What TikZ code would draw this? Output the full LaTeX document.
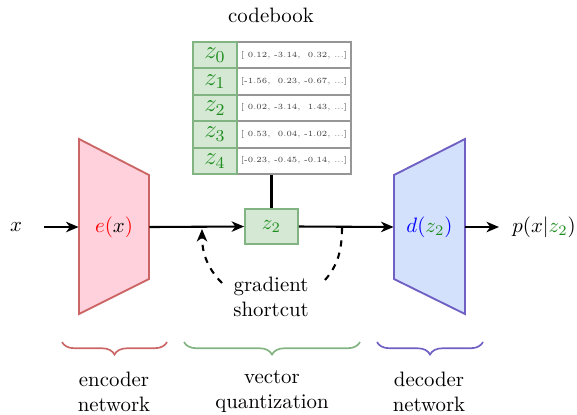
\documentclass[tikz,border=0pt]{standalone}
\usetikzlibrary{arrows.meta,decorations.pathreplacing,calc}
\definecolor{zgreen}{RGB}{30,140,30}
\definecolor{encfill}{RGB}{255,209,220}
\definecolor{encdraw}{RGB}{204,102,102}
\definecolor{decfill}{RGB}{212,225,252}
\definecolor{decdraw}{RGB}{112,96,196}
\definecolor{vqfill}{RGB}{213,232,212}
\definecolor{vqdraw}{RGB}{130,179,130}
\definecolor{cbgray}{RGB}{150,150,150}
\definecolor{cbtext}{RGB}{60,60,60}
\tikzset{
  conn/.style={line width=1pt,-{Stealth[length=6pt,width=5pt,inset=1.8pt]}},
  zcell/.style={draw=vqdraw,fill=vqfill,line width=0.9pt,minimum width=21.12pt,minimum height=12.67pt,inner sep=0pt,font=\large},
  vcell/.style={draw=cbgray,fill=white,line width=0.9pt,minimum width=54.72pt,minimum height=12.67pt,inner sep=0pt,font=\fontsize{3.8pt}{4.5pt}\selectfont,text=cbtext},
  zbox/.style={draw=vqdraw,fill=vqfill,line width=0.9pt,minimum width=25.4pt,minimum height=16.8pt,inner sep=0pt},
  label/.style={align=center,inner sep=1pt},
  brc/.style={decorate,decoration={brace,amplitude=6pt,mirror},thick},
  sc/.style={line width=1pt,dashed}
}
\begin{document}
\begin{tikzpicture}[x=0.48pt,y=-0.48pt]
\useasboundingbox (0,0) rectangle (577,414);
% encoder
\draw[encdraw,fill=encfill,line width=0.9pt] (79,139) -- (149,175) -- (149,279) -- (79,314) -- cycle;
\node[minimum width=33.6pt,minimum height=84pt,inner sep=0pt] (enc) at (114,227) {$\textcolor{red}{e(}x\textcolor{red}{)}$};
% decoder
\draw[decdraw,fill=decfill,line width=0.9pt] (394,175) -- (465,139) -- (465,314) -- (394,279) -- cycle;
\node[minimum width=34.1pt,minimum height=84pt,inner sep=0pt] (dec) at (429.5,227) {$\textcolor{blue}{d(}\textcolor{zgreen}{z_2}\textcolor{blue}{)}$};
% input / output
\node (x) at (16,227) {$x$};
\coordinate (xs) at (44,227);
\node[anchor=west,inner sep=0pt] (p) at (512,227) {$p(x|\textcolor{zgreen}{z_2})$};
\coordinate (pe) at (499,227);
% z2 box
\node[zbox] (z2) at (271.5,226.5) {$\textcolor{zgreen}{z_2}$};
% codebook
\foreach \i/\v in {0/{[ 0.12, -3.14,\ \ 0.32, ...]},1/{[-1.56,\ \ 0.23, -0.67, ...]},2/{[ 0.02, -3.14,\ \ 1.43, ...]},3/{[ 0.53,\ \ 0.04, -1.02, ...]},4/{[-0.23, -0.45, -0.14, ...]}}{
  \node[vcell] (r\i) at (294,{55.2+26.4*\i}) {\v};
  \node[zcell] (l\i) at (215,{55.2+26.4*\i}) {$\textcolor{zgreen}{z_\i}$};
}
\node (cb) at (271,15) {codebook};
% connectors
\draw[conn] (xs) -- (enc.west);
\draw[conn] (enc.east) -- (z2.west);
\draw[conn] (z2.east) -- (dec.west);
\draw[conn] (dec.east) -- (pe);
\draw[line width=1pt] (z2.north) -- (z2.north |- r4.south);
% gradient shortcut
\node[label] (gs) at (271,297) {gradient\\shortcut};
\coordinate (g1) at (222,283);
\coordinate (g2) at (202,229);
\coordinate (g3) at (325,280);
\coordinate (g4) at (342,227);
\draw[sc,-{Stealth[length=6pt,width=5pt,inset=1.8pt]}] (g1) .. controls (207,268) and (202,252) .. (g2);
\draw[sc] (g3) .. controls (338,265) and (342,250) .. (g4);
% braces
\draw[brc,encdraw] (62,342) -- (167,342);
\draw[brc,vqdraw] (184,342) -- (360,342);
\draw[brc,decdraw] (377,342) -- (483,342);
\node[label] (el) at (114,392) {encoder\\network};
\node[label] (vl) at (272,392) {vector\\quantization};
\node[label] (dl) at (429,392) {decoder\\network};
\end{tikzpicture}
\end{document}
